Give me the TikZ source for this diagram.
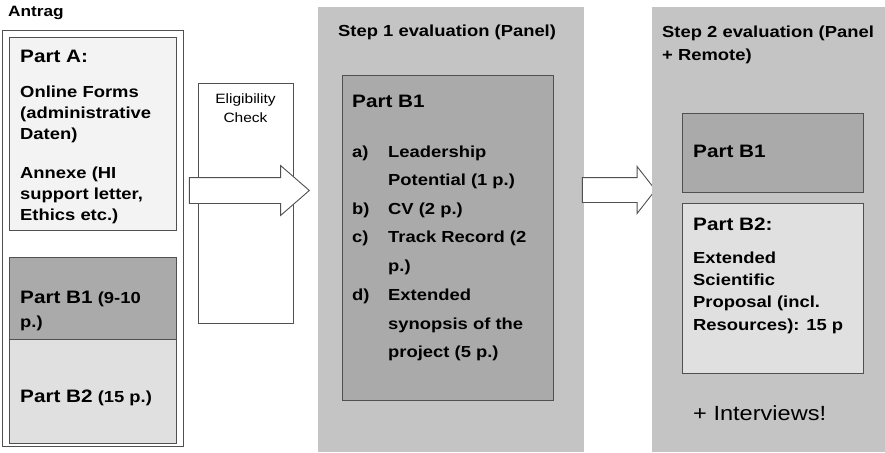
\documentclass[tikz,border=0pt]{standalone}
\usepackage{fontspec}
\setmainfont[FakeStretch=1.15]{Liberation Sans}
\usetikzlibrary{shapes.arrows}
\definecolor{panelgray}{RGB}{196,196,196}
\definecolor{darkpart}{RGB}{170,170,170}
\definecolor{lightpart}{RGB}{224,224,224}
\definecolor{pagepart}{RGB}{243,243,243}
\definecolor{edgegray}{RGB}{80,80,80}
\tikzset{
  box/.style={draw=edgegray, line width=0.9pt, inner sep=0pt, outer sep=0pt, anchor=north west},
  panel/.style={fill=panelgray, draw=none, inner sep=0pt, outer sep=0pt, anchor=north west},
  txt/.style={anchor=base west, inner sep=0pt, align=left},
  blockarrow/.style={single arrow, draw=edgegray, fill=white, line width=0.9pt, inner xsep=0pt, anchor=tip},
}
\newcommand{\hd}{\bfseries\fontsize{18}{22}\selectfont}
\newcommand{\bd}[1]{\bfseries\fontsize{16}{#1}\selectfont}
\begin{document}
\begin{tikzpicture}[x=1pt,y=-1pt]
  \useasboundingbox (0,0) rectangle (885,452);
  % application (left column); multi-line nodes sit on their last baseline
  \node[txt, font=\bfseries\fontsize{15}{18}\selectfont] (antrag) at (8,17) {Antrag};
  \node[box, minimum width=181, minimum height=416] (antragbox) at (2,30) {};
  \node[box, fill=pagepart, minimum width=167, minimum height=193] (parta) at (9,37) {};
  \node[box, fill=darkpart, minimum width=167, minimum height=82] (partbone) at (9,257) {};
  \node[box, fill=lightpart, minimum width=167, minimum height=104] (partbtwo) at (9,339) {};
  \node[txt, font=\hd] at (20,63) {Part A:};
  \node[txt, font=\bd{21}] at (20,139) {Online Forms\\(administrative\\Daten)};
  \node[txt, font=\bd{21}] at (20,220) {Annexe (HI\\support letter,\\Ethics etc.)};
  \node[txt, font=\bd{24}] at (20,327) {{\hd Part B1} (9-10\\p.)};
  \node[txt, font=\bd{24}] at (20,402) {{\hd Part B2} (15 p.)};
  % eligibility check
  \node[box, minimum width=95, minimum height=240] (elig) at (198,83) {};
  \node[anchor=base, inner sep=0pt, align=center, font=\fontsize{13.5}{19}\selectfont]
    at (245.5,122) {Eligibility\\Check};
  \node[blockarrow, minimum height=120, inner ysep=12.5pt,
    single arrow head extend=12pt, single arrow tip angle=82] (chk) at (310,190.5) {};
  % step 1
  \node[panel, minimum width=266, minimum height=445] (stepone) at (318,7) {};
  \node[txt, font=\bd{20}] at (338,37) {Step 1 evaluation (Panel)};
  \node[box, fill=darkpart, minimum width=211, minimum height=325] (onebone) at (342,75) {};
  \node[txt, font=\hd] at (352,107) {Part B1};
  \foreach \lab/\ya/\yb/\txt in {a)/157/185.5/{Leadership\\Potential (1 p.)}, b)/214/214/{CV (2 p.)},
      c)/242.5/271/{Track Record (2\\p.)}, d)/300.5/357.5/{Extended\\synopsis of the\\project (5 p.)}}
  {
    \node[txt, font=\bd{28.5}] at (352,\ya) {\lab};
    \node[txt, font=\bd{28.5}] at (388,\yb) {\txt};
  }
  \node[blockarrow, minimum height=73, inner ysep=12pt,
    single arrow head extend=11pt, single arrow tip angle=104] (adv) at (656,190) {};
  % step 2
  \node[panel, minimum width=233, minimum height=445] (steptwo) at (652,7) {};
  \node[txt, font=\bd{23}] at (662,60) {Step 2 evaluation (Panel\\+ Remote)};
  \node[box, fill=darkpart, minimum width=181, minimum height=79] (twobone) at (682,113) {};
  \node[txt, font=\hd] at (693,157) {Part B1};
  \node[box, fill=lightpart, minimum width=181, minimum height=170] (twobtwo) at (682,203) {};
  \node[txt, font=\hd] at (693,230) {Part B2:};
  \node[txt, font=\bd{22.3}] at (693,330) {Extended\\Scientific\\Proposal (incl.\\Resources): 15 p};
  \node[txt, font=\fontsize{20.5}{24}\selectfont] at (693,420) {+ Interviews!};
\end{tikzpicture}
\end{document}
